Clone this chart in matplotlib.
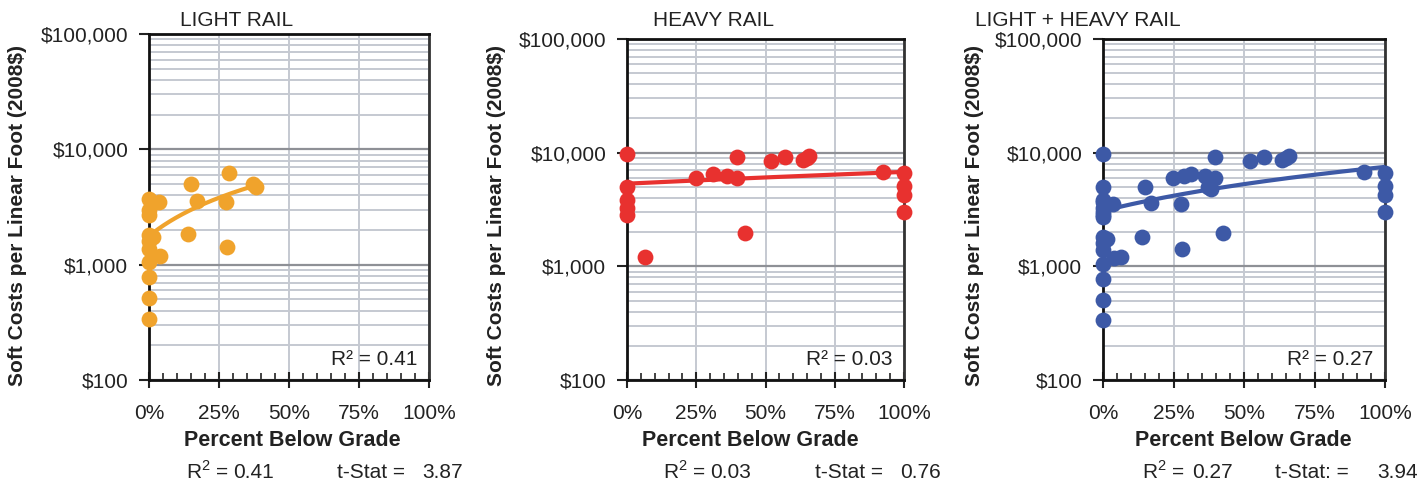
import numpy as np
import matplotlib
matplotlib.use("Agg")
import matplotlib.pyplot as plt
from matplotlib.ticker import FixedLocator, MultipleLocator, FuncFormatter, NullFormatter

plt.rcParams['font.family'] = ['Liberation Sans', 'DejaVu Sans']
plt.rcParams['mathtext.fontset'] = 'custom'
plt.rcParams['mathtext.rm'] = 'Liberation Sans'

# ---------------- data ----------------
light_pct = [0, 3.7, 0, 0, 0, 1.5, 0, 0, 3.9, 0, 0, 0, 0,
             14.9, 17, 14, 28.6, 27.5, 27.9, 37.3, 38.2]
light_cost = [3700, 3500, 3000, 2700, 1800, 1750, 1600, 1380, 1190, 1050, 780, 510, 340,
              5000, 3600, 1830, 6200, 3500, 1430, 5000, 4750]

heavy_pct = [0, 0, 0, 0, 0, 6.5, 24.9, 31.2, 36, 39.6, 39.6, 42.7, 52, 57,
             63.6, 64.9, 65.8, 92.5, 100, 100, 100, 100]
heavy_cost = [9800, 4950, 3850, 3250, 2850, 1220, 5950, 6450, 6250, 5950, 9100, 1980, 8450, 9200,
              8600, 9000, 9400, 6800, 6600, 5100, 4250, 3000]

both_pct = light_pct + heavy_pct
both_cost = light_cost + heavy_cost

titles = ["LIGHT RAIL", "HEAVY RAIL", "LIGHT + HEAVY RAIL"]
r2_inside = ["0.41", "0.03", "0.27"]
r2_bottom = ["0.41", "0.03", "0.27"]
tstat_label = ["t-Stat =", "t-Stat =", "t-Stat: ="]
tstat_value = ["3.87", "0.76", "3.94"]
colors = ["#F0A32C", "#E8312F", "#3D59A6"]

x_ticks = [0, 25, 50, 75, 100]
y_ticks = [100, 1000, 10000, 100000]

W, H = 1417, 486
fig = plt.figure(figsize=(W / 100, H / 100), dpi=100)

def px(x, y):
    return x / W, 1 - y / H

# axes boxes in pixels: left, right, top, bottom
boxes = [(149, 429, 34, 380), (627, 904, 39, 380), (1103, 1385, 39, 380)]
title_x = [180, 653, 975]
ylab_x = [18, 497, 975]
xlab_cx = [292, 750, 1243]
bottom_x = [(186, 233, 337, 422), (663, 710, 815, 900), (1142, 1192, 1275, 1377)]

series = [(light_pct, light_cost), (heavy_pct, heavy_cost), (both_pct, both_cost)]

for i, (xs, ys) in enumerate(series):
    l, r, t, b = boxes[i]
    ax = fig.add_axes([l / W, 1 - b / H, (r - l) / W, (b - t) / H])
    ax.set_yscale('log')
    ax.set_xlim(0, 100)
    ax.set_ylim(100, 100000)

    # grid
    ax.yaxis.set_minor_locator(matplotlib.ticker.LogLocator(base=10, subs=np.arange(2, 10)))
    ax.yaxis.set_minor_formatter(NullFormatter())
    ax.grid(True, which='minor', axis='y', color='#c5c9d1', lw=1.4)
    ax.grid(True, which='major', axis='y', color='#8e9096', lw=1.6)
    ax.grid(True, which='major', axis='x', color='#c5c9d1', lw=1.4)
    ax.set_axisbelow(True)

    ax.yaxis.set_major_locator(FixedLocator(y_ticks))
    ax.yaxis.set_major_formatter(FuncFormatter(lambda v, p: f"${v:,.0f}"))
    ax.xaxis.set_major_locator(FixedLocator(x_ticks))
    ax.xaxis.set_minor_locator(MultipleLocator(5))
    ax.xaxis.set_major_formatter(FuncFormatter(lambda v, p: f"{v:.0f}%"))

    ax.tick_params(axis='y', which='major', direction='out', length=7, width=1.5,
                   labelsize=15, pad=8, colors='#222222')
    ax.tick_params(axis='y', which='minor', length=0)
    ax.tick_params(axis='x', which='major', direction='inout', length=12, width=1.5,
                   labelsize=15, pad=11, colors='#222222')
    ax.tick_params(axis='x', which='minor', direction='in', length=5, width=1.2, color='#222222')

    for side in ['left', 'top', 'bottom']:
        ax.spines[side].set_color('#111111')
        ax.spines[side].set_linewidth(2)
    ax.spines['right'].set_color('#333333')
    ax.spines['right'].set_linewidth(2)

    ax.scatter(xs, ys, s=130, color=colors[i], zorder=3, clip_on=False, linewidths=0)

    # linear trendline
    slope, icpt = np.polyfit(xs, ys, 1)
    xx = np.linspace(min(xs), max(xs), 200)
    ax.plot(xx, icpt + slope * xx, color=colors[i], lw=3, zorder=4, solid_capstyle='round')

    ax.text(0.96, 0.06, f"R² = {r2_inside[i]}", transform=ax.transAxes, ha='right',
            va='center', fontsize=15, color='#222222', zorder=5)

    # texts outside
    fig.text(*px(title_x[i], 21), titles[i], fontsize=15, ha='left', va='center', color='#222222')
    fig.text(*px(ylab_x[i], 216), "Soft Costs per Linear Foot (2008$)", rotation=90,
             fontsize=15, fontweight='bold', ha='center', va='center', color='#222222')
    fig.text(*px(xlab_cx[i], 440), "Percent Below Grade", fontsize=15.5, fontweight='bold',
             ha='center', va='center', color='#222222')
    bx = bottom_x[i]
    fig.text(*px(bx[0], 471), r"R$^2$ =", fontsize=15, ha='left', va='center', color='#222222')
    fig.text(*px(bx[1], 472), r2_bottom[i], fontsize=15, ha='left', va='center', color='#222222')
    fig.text(*px(bx[2], 472), tstat_label[i], fontsize=15, ha='left', va='center', color='#222222')
    fig.text(*px(bx[3], 472), tstat_value[i], fontsize=15, ha='left', va='center', color='#222222')

fig.savefig("out.png", dpi=100)
